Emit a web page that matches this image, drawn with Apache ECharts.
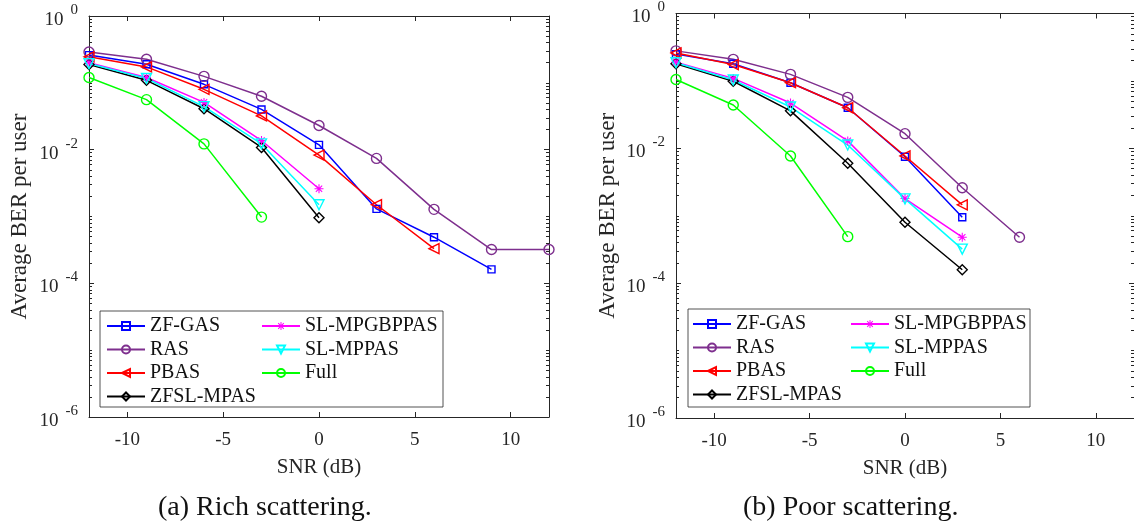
<!DOCTYPE html>
<html>
<head>
<meta charset="utf-8">
<script src="https://cdn.jsdelivr.net/npm/echarts@6/dist/echarts.min.js"></script>
<style>
  html, body { margin: 0; padding: 0; background: #fff; }
  #chart { width: 1134px; height: 527px; }
</style>
</head>
<body>
<div id="chart"></div>
<script>
// SNR points (dB) shared by all curves
const snr = [-12, -9, -6, -3, 0, 3, 6, 9, 12];

// x tick labels and y decade labels
const xTicks = [-10, -5, 0, 5, 10];
const yDecades = [-6, -4, -2, 0];

// (a) Rich scattering: average BER per user
const richZfGas     = [0.26, 0.19, 0.095, 0.04, 0.0118, 0.0013, 0.00049, 0.000162];
const richRas       = [0.29, 0.225, 0.125, 0.063, 0.023, 0.0074, 0.00128, 0.00032, 0.00032];
const richPbas      = [0.245, 0.173, 0.080, 0.032, 0.0083, 0.0015, 0.00033];
const richZfslMpas  = [0.188, 0.109, 0.041, 0.0108, 0.00096];
const richSlMpgbppas = [0.2, 0.12, 0.051, 0.0137, 0.0026];
const richSlMppas   = [0.194, 0.116, 0.044, 0.0122, 0.0015];
const richFull      = [0.12, 0.056, 0.0122, 0.00098];

// (b) Poor scattering: average BER per user
const poorZfGas     = [0.25, 0.18, 0.094, 0.04, 0.0075, 0.00095];
const poorRas       = [0.279, 0.209, 0.125, 0.057, 0.0165, 0.0026, 0.00048];
const poorPbas      = [0.26, 0.175, 0.094, 0.04, 0.0077, 0.00145];
const poorZfslMpas  = [0.18, 0.099, 0.036, 0.006, 0.0008, 0.000158];
const poorSlMpgbppas = [0.19, 0.109, 0.047, 0.0129, 0.0018, 0.00048];
const poorSlMppas   = [0.186, 0.103, 0.041, 0.0112, 0.00178, 0.00032];
const poorFull      = [0.105, 0.044, 0.0077, 0.00049];

const names = ['ZF-GAS', 'RAS', 'PBAS', 'ZFSL-MPAS', 'SL-MPGBPPAS', 'SL-MPPAS', 'Full'];
const richData = [richZfGas, richRas, richPbas, richZfslMpas, richSlMpgbppas, richSlMppas, richFull];
const poorData = [poorZfGas, poorRas, poorPbas, poorZfslMpas, poorSlMpgbppas, poorSlMppas, poorFull];

const FONT = 'Liberation Serif';
const INK = '#262626';

// eight-armed asterisk marker
const asterisk = 'path://M-1.2,-10L1.2,-10L1.2,10L-1.2,10Z' +
  'M-10,-1.2L10,-1.2L10,1.2L-10,1.2Z' +
  'M-6.15,-7.85L7.85,6.15L6.15,7.85L-7.85,-6.15Z' +
  'M6.15,-7.85L7.85,-6.15L-6.15,7.85L-7.85,6.15Z';

const styles = {
  'ZF-GAS':      { color: '#0000ff', symbol: 'rect', size: 7, rotate: 0 },
  'RAS':         { color: '#7e2f8e', symbol: 'circle', size: 10, rotate: 0 },
  'PBAS':        { color: '#ff0000', symbol: 'triangle', size: 10, rotate: 90 },
  'ZFSL-MPAS':   { color: '#000000', symbol: 'diamond', size: 10, rotate: 0 },
  'SL-MPGBPPAS': { color: '#ff00ff', symbol: asterisk, size: 9, rotate: 0, filled: true },
  'SL-MPPAS':    { color: '#00ffff', symbol: 'triangle', size: 10, rotate: 180 },
  'Full':        { color: '#00ff00', symbol: 'circle', size: 10, rotate: 0 }
};

const majorTicks = yDecades.map(k => Math.pow(10, k));
const minorTicks = [];
for (let k = -6; k < 0; k++) {
  for (let m = 1; m <= 9; m++) {
    if (m === 1 && k % 2 === 0) continue;
    minorTicks.push(m * Math.pow(10, k));
  }
}

function decadeLabel(v) {
  const e = Math.round(Math.log10(v));
  return '{b|10}{s|' + e + '}';
}

const grids = [
  { left: 89, top: 16, width: 460, height: 401 },
  { left: 676, top: 13, width: 462, height: 405 }
];

const xAxes = [], yAxes = [], series = [];

function baseY(gi, pos, extra) {
  return Object.assign({
    type: 'log', logBase: 10, gridIndex: gi, position: pos,
    min: 1e-6, max: 1,
    axisLine: { show: true, onZero: false, lineStyle: { color: INK, width: 1 } },
    splitLine: { show: false },
    axisLabel: { show: false }
  }, extra);
}

grids.forEach((g, gi) => {
  // bottom x axis with labels, top x axis mirrors the ticks
  ['bottom', 'top'].forEach(pos => {
    xAxes.push({
      type: 'value', gridIndex: gi, position: pos,
      min: -12, max: 12,
      axisLine: { show: true, onZero: false, lineStyle: { color: INK, width: 1 } },
      axisTick: { show: true, inside: true, length: 5, customValues: xTicks, lineStyle: { color: INK } },
      splitLine: { show: false },
      axisLabel: pos === 'bottom'
        ? { show: true, customValues: xTicks, margin: 14, fontFamily: FONT, fontSize: 19, color: INK }
        : { show: false },
      name: pos === 'bottom' ? 'SNR (dB)' : '',
      nameLocation: 'middle', nameGap: 40,
      nameTextStyle: { fontFamily: FONT, fontSize: 21, color: INK }
    });
  });

  // left: labelled decades + minor ticks; right: mirrored ticks
  yAxes.push(baseY(gi, 'left', {
    axisTick: { show: true, inside: true, length: 5, customValues: majorTicks, lineStyle: { color: INK } },
    axisLabel: {
      show: true, customValues: majorTicks, margin: 11, formatter: decadeLabel,
      rich: {
        b: { fontFamily: FONT, fontSize: 19, color: INK, verticalAlign: 'bottom', lineHeight: 27 },
        s: { fontFamily: FONT, fontSize: 15, color: INK, verticalAlign: 'top', lineHeight: 27, padding: [0, 0, 0, 7] }
      }
    },
    name: 'Average BER per user', nameLocation: 'middle', nameGap: gi === 0 ? 58 : 57,
    nameTextStyle: { fontFamily: FONT, fontSize: 23, color: INK }
  }));
  yAxes.push(baseY(gi, 'left', {
    axisLine: { show: false, onZero: false },
    axisTick: { show: true, inside: true, length: 3, customValues: minorTicks, lineStyle: { color: INK } }
  }));
  yAxes.push(baseY(gi, 'right', {
    axisTick: { show: true, inside: true, length: 5, customValues: majorTicks, lineStyle: { color: INK } }
  }));
  yAxes.push(baseY(gi, 'right', {
    axisLine: { show: false, onZero: false },
    axisTick: { show: true, inside: true, length: 3, customValues: minorTicks, lineStyle: { color: INK } }
  }));

  const data = gi === 0 ? richData : poorData;
  names.forEach((name, i) => {
    const s = styles[name];
    series.push({
      name: name,
      type: 'line',
      xAxisIndex: gi * 2,
      yAxisIndex: gi * 4,
      data: data[i].map((v, j) => [snr[j], v]),
      symbol: s.symbol,
      symbolSize: s.size,
      symbolRotate: s.rotate,
      showAllSymbol: true,
      lineStyle: { color: s.color, width: 1.5 },
      itemStyle: {
        color: s.filled ? s.color : 'none',
        borderColor: s.color,
        borderWidth: s.filled ? 0 : 1.4
      },
      emphasis: { disabled: true },
      z: 3
    });
  });
});

function legendCol(left, top, items) {
  return {
    left: left, top: top, orient: 'vertical', padding: 0,
    data: items, itemWidth: 38, itemHeight: 10, itemGap: 3.5,
    selectedMode: false,
    textStyle: { fontFamily: FONT, fontSize: 20, color: '#111', lineHeight: 18 }
  };
}

const option = {
  animation: false,
  backgroundColor: '#fff',
  grid: grids,
  xAxis: xAxes,
  yAxis: yAxes,
  series: series,
  legend: [
    legendCol(106, 316, ['ZF-GAS', 'RAS', 'PBAS', 'ZFSL-MPAS']),
    legendCol(261, 316, ['SL-MPGBPPAS', 'SL-MPPAS', 'Full']),
    legendCol(692, 314, ['ZF-GAS', 'RAS', 'PBAS', 'ZFSL-MPAS']),
    legendCol(850, 314, ['SL-MPGBPPAS', 'SL-MPPAS', 'Full'])
  ],
  graphic: [
    { type: 'rect', z: 1, shape: { x: 100, y: 311, width: 343, height: 96 },
      style: { fill: '#fff', stroke: INK, lineWidth: 0.8 } },
    { type: 'rect', z: 1, shape: { x: 688, y: 309, width: 342, height: 98 },
      style: { fill: '#fff', stroke: INK, lineWidth: 0.8 } },
    { type: 'text', left: 158, top: 494,
      style: { text: '(a) Rich scattering.', fontFamily: FONT, fontSize: 28, fill: '#111' } },
    { type: 'text', left: 743, top: 494,
      style: { text: '(b) Poor scattering.', fontFamily: FONT, fontSize: 28, fill: '#111' } }
  ]
};

const chart = echarts.init(document.getElementById('chart'), null, { renderer: 'canvas' });
chart.setOption(option);
</script>
</body>
</html>
